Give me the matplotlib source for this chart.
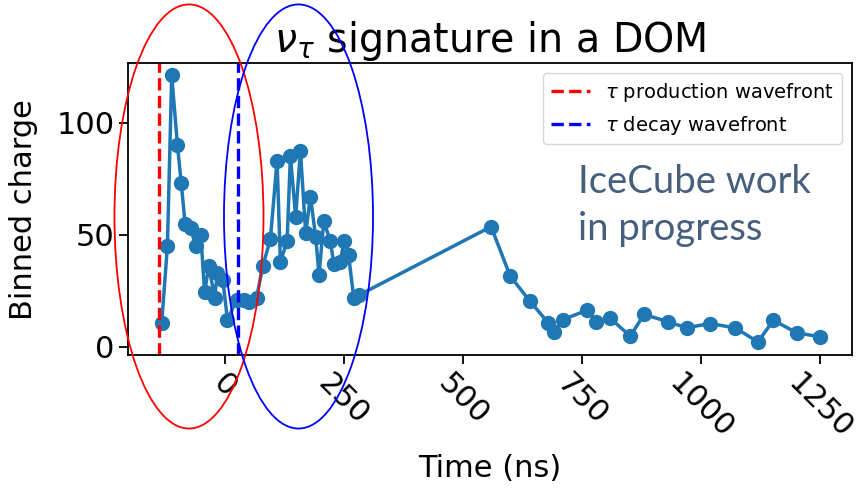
import matplotlib
matplotlib.use("Agg")
import matplotlib.pyplot as plt
from matplotlib.patches import Ellipse

# ─── DATA ──────────────────────────────────────────────────────────────────
time_ns = [-132, -120, -111, -99, -91, -83, -71, -61, -50, -42,
           -33, -21, -15, -4, 6, 25, 40, 52, 67, 80,
           96, 110, 117, 131, 138, 149, 159, 170, 180, 191,
           198, 208, 222, 229, 243, 250, 260, 271, 281,
           559, 599, 640, 679, 690, 710, 761, 779, 809, 851,
           880, 930, 969, 1018, 1071, 1119, 1151, 1200, 1249]
charge = [10.6, 45, 121, 90, 73, 55, 53, 45, 50, 24.5,
          36, 22, 33, 30, 12, 21, 21, 20, 22, 36,
          48, 83, 38, 47, 85, 58, 87.5, 50.6, 67, 49,
          32, 56, 47, 37, 38, 47, 41, 21.6, 23,
          53.6, 31.6, 20.5, 10.7, 6.7, 12.2, 16.4, 11.2, 12.7, 4.8,
          14.5, 11.2, 8.5, 10.4, 8.5, 2.2, 11.9, 6.3, 4.5]

t_production = -138
t_decay = 28

xticks = [0, 250, 500, 750, 1000, 1250]
yticks = [0, 50, 100]

# ─── PLOT ──────────────────────────────────────────────────────────────────
fig = plt.figure(figsize=(8.59, 4.92), dpi=100)
ax = fig.add_axes([0.1494, 0.2785, 0.8424, 0.5928])

ax.plot(time_ns, charge, "-o", color="tab:blue", lw=2.5, ms=10)
ax.axvline(t_production, color="red", ls="--", lw=2.4,
           label=r"$\tau$ production wavefront")
ax.axvline(t_decay, color="blue", ls="--", lw=2.4,
           label=r"$\tau$ decay wavefront")

ax.set_xlim(-202, 1316)
ax.set_ylim(-3.6, 126.4)
ax.set_xticks(xticks)
ax.set_yticks(yticks)
ax.tick_params(labelsize=22, length=6.5, width=1.3)
for lbl in ax.get_xticklabels():
    lbl.set_rotation(-45)
for sp in ax.spines.values():
    sp.set_linewidth(1.3)

ax.set_xlabel("Time (ns)", fontsize=22, labelpad=7)
ax.set_ylabel("Binned charge", fontsize=22, labelpad=13)
ax.set_title(r"$\nu_\tau$ signature in a DOM", fontsize=28.5)
ax.legend(loc="upper right", fontsize=14)

ax.text(0.6214, 0.555, "IceCube work", transform=ax.transAxes,
        fontsize=27.5, family="Lato", color="#465f7d", va="baseline")
ax.text(0.6214, 0.394, "in progress", transform=ax.transAxes,
        fontsize=27.5, family="Lato", color="#465f7d", va="baseline")

# hand-drawn style ellipses around the two wavefronts
for cx, col in [(0.220, "red"), (0.3475, "blue")]:
    fig.patches.append(Ellipse((cx, 0.560), 0.1735, 0.862, fill=False,
                               edgecolor=col, lw=1.3,
                               transform=fig.transFigure, figure=fig))

fig.savefig("out.png", dpi=100)
